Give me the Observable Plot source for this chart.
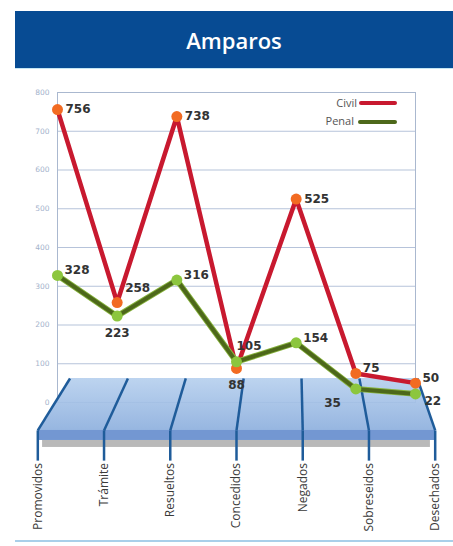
<!DOCTYPE html>
<html><head><meta charset="utf-8">
<script src="https://cdn.jsdelivr.net/npm/d3@7"></script>
<script src="https://cdn.jsdelivr.net/npm/@observablehq/plot@0.6"></script>
<style>
html,body{margin:0;padding:0;background:#fff;}
#wrap{position:relative;width:453px;height:546px;overflow:hidden;font-family:"Open Sans",sans-serif;background:#fff;}
#header{position:absolute;left:15px;top:11px;width:438px;height:57px;background:#074b93;color:#fff;font-size:22px;font-weight:600;display:flex;align-items:center;justify-content:center;border-bottom:1px solid #c4e6f4;}
#chart{position:absolute;left:0;top:69px;}
.legtxt{position:absolute;font-size:11px;color:#555;line-height:14px;text-align:right;width:60px;}
.legbar{position:absolute;height:4px;border-radius:2px;}
#bottomline{position:absolute;left:15px;top:540px;width:438px;height:2px;background:#a9cfe9;}
</style>
</head><body>
<div id="wrap">
  <div id="header"></div>
  <div id="chart"></div>
  <div id="legend"></div>
  <div id="bottomline"></div>
</div>
<script>
// ---- data ----
const title = "Amparos";
const categories = ["Promovidos","Trámite","Resueltos","Concedidos","Negados","Sobreseidos","Desechados"];
const civil = [756, 258, 738, 88, 525, 75, 50];
const penal = [328, 223, 316, 105, 154, 35, 22];
const yTicks = [0, 100, 200, 300, 400, 500, 600, 700, 800];
const seriesNames = ["Civil", "Penal"];
// label placement keywords (relative to each point)
const civilLabelPos = ["r","ur","r","b","r","ru","ru"];
const penalLabelPos = ["ru","b","ru","u","ru","lb","rd"];

// ---- styling ----
const civilLine = "#c8192f", civilDot = "#f26b22";
const penalLine = "#4d681a", penalEdge = "#86b23c", penalDot = "#8cc63e";
document.getElementById("header").textContent = title;

const n = categories.length, mid = (n - 1) / 2;
const rows = categories.map((c, i) => ({i, cat: c, civil: civil[i], penal: penal[i]}));
// pseudo-3D floor geometry (in data units)
const back = i => mid + 0.12 + (i - mid) * 0.97;
const front = i => mid + (i - mid) * 1.11;
const FLOOR_BACK = 62, FLOOR_FRONT = -72, BAND_BOTTOM = -98, SHADOW_BOTTOM = -116, DIV_BOTTOM = -150, LABEL_TOP = -156;

const offsets = {
  r:  {dx: 8,  dy: 0,   textAnchor: "start"},
  ur: {dx: 8,  dy: -14, textAnchor: "start"},
  ru: {dx: 7,  dy: -5,  textAnchor: "start"},
  b:  {dx: 0,  dy: 17,  textAnchor: "middle"},
  u:  {dx: 0,  dy: -16, textAnchor: "start"},
  lb: {dx: -15,dy: 14,  textAnchor: "end"},
  rd: {dx: 9,  dy: 7,   textAnchor: "start"}
};
const points = [
  ...rows.map(d => ({i: d.i, v: d.civil, pos: civilLabelPos[d.i]})),
  ...rows.map(d => ({i: d.i, v: d.penal, pos: penalLabelPos[d.i]}))
];
const labelMarks = Object.entries(offsets).map(([k, o]) =>
  Plot.text(points.filter(p => p.pos === k), {
    x: "i", y: "v", text: d => String(d.v), ...o,
    fontSize: 12, fontWeight: "bold", fontFamily: "DejaVu Sans", fill: "#333"
  }));

const chart = Plot.plot({
  width: 453, height: 477,
  marginLeft: 57, marginRight: 38, marginTop: 23, marginBottom: 144,
  x: {domain: [0, n - 1], axis: null},
  y: {domain: [0, 800]},
  style: {background: "transparent", overflow: "visible"},
  marks: [
    Plot.ruleY(yTicks, {stroke: "#b6c3da", strokeWidth: 1.2}),
    Plot.frame({stroke: "#aab8cf"}),
    Plot.axisY(yTicks, {tickSize: 0, tickPadding: 8, fontSize: 7.5, fill: "#a3b2cb", fontFamily: "DejaVu Sans"}),
    // floor
    Plot.rect([0], {x1: () => front(0) + 0.08, x2: () => front(n - 1) - 0.08, y1: () => SHADOW_BOTTOM, y2: () => BAND_BOTTOM, fill: "#b9b9b9"}),
    Plot.rect([0], {x1: () => front(0), x2: () => front(n - 1), y1: () => BAND_BOTTOM, y2: () => FLOOR_FRONT, fill: "#7397d2"}),
    Plot.area([0, n - 1], {x1: i => back(i), y1: () => FLOOR_BACK, x2: i => front(i), y2: () => FLOOR_FRONT, fill: "url(#floorGrad)", fillOpacity: 0.92}),
    Plot.link(rows, {x1: d => back(d.i), y1: () => FLOOR_BACK, x2: d => front(d.i), y2: () => FLOOR_FRONT, stroke: "#1f5c9a", strokeWidth: 2.5}),
    Plot.link(rows, {x1: d => front(d.i), y1: () => FLOOR_FRONT, x2: d => front(d.i), y2: () => DIV_BOTTOM, stroke: "#1f5c9a", strokeWidth: 2.5}),
    Plot.text(rows, {x: d => front(d.i), y: () => LABEL_TOP, text: "cat", rotate: -90, textAnchor: "end", fontSize: 12, fontFamily: "Open Sans", fill: "#3a3a3a"}),
    // series
    Plot.line(rows, {x: "i", y: "civil", stroke: civilLine, strokeWidth: 4.5, strokeLinejoin: "round"}),
    Plot.line(rows, {x: "i", y: "penal", stroke: penalEdge, strokeWidth: 5.8, strokeLinejoin: "round"}),
    Plot.line(rows, {x: "i", y: "penal", stroke: penalLine, strokeWidth: 4, strokeLinejoin: "round"}),
    Plot.dot(rows, {x: "i", y: "civil", r: 5.5, fill: civilDot}),
    Plot.dot(rows, {x: "i", y: "penal", r: 5.5, fill: penalDot}),
    ...labelMarks
  ]
});
const defs = d3.select(chart).insert("defs", ":first-child");
const g = defs.append("linearGradient").attr("id", "floorGrad").attr("x1", 0).attr("y1", 0).attr("x2", 0).attr("y2", 1);
g.append("stop").attr("offset", "0%").attr("stop-color", "#b7d0ee");
g.append("stop").attr("offset", "100%").attr("stop-color", "#8eb0de");
document.getElementById("chart").appendChild(chart);

// legend (HTML overlay)
const legend = document.getElementById("legend");
const legColors = [civilLine, penalLine];
seriesNames.forEach((s, k) => {
  const t = document.createElement("div");
  t.className = "legtxt";
  t.textContent = s;
  t.style.left = (297 - 3 * k) + "px";
  t.style.top = (96 + 18 * k) + "px";
  legend.appendChild(t);
  const b = document.createElement("div");
  b.className = "legbar";
  b.style.left = (359 - k) + "px";
  b.style.top = (101 + 19 * k) + "px";
  b.style.width = (38 + k) + "px";
  b.style.background = legColors[k];
  legend.appendChild(b);
});
</script>
</body></html>
